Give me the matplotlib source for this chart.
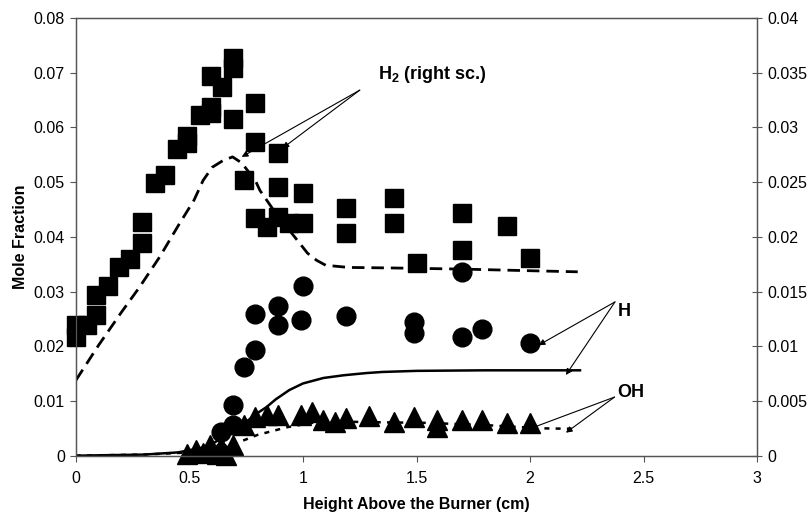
import matplotlib
matplotlib.use('Agg')
import matplotlib.pyplot as plt
from matplotlib.ticker import FuncFormatter

plt.rcParams['font.family'] = ['Liberation Sans', 'DejaVu Sans']
plt.rcParams['mathtext.fontset'] = 'custom'
plt.rcParams['mathtext.rm'] = 'Liberation Sans'
plt.rcParams['mathtext.bf'] = 'Liberation Sans:bold'

# H2 measurements (right scale)
h2_x = [0.0, 0.0, 0.05, 0.09, 0.09, 0.14, 0.19, 0.24, 0.29, 0.29, 0.35, 0.39,
        0.445, 0.49, 0.49, 0.546, 0.594, 0.594, 0.594, 0.643, 0.69, 0.69, 0.69,
        0.74, 0.79, 0.79, 0.79, 0.84, 0.89, 0.89, 0.89, 0.94, 1.0, 1.0,
        1.19, 1.19, 1.40, 1.40, 1.50, 1.70, 1.70, 1.90, 2.0]
h2_y = [0.01195, 0.01085, 0.01195, 0.01285, 0.01465, 0.01555, 0.01725, 0.0180, 0.01945, 0.02135, 0.0249, 0.02565,
        0.0280, 0.0286, 0.02925, 0.0311, 0.0313, 0.03185, 0.03465, 0.0337, 0.03075, 0.0354, 0.03635,
        0.0252, 0.0322, 0.02865, 0.0217, 0.0209, 0.02765, 0.02455, 0.0218, 0.02125, 0.0240, 0.02125,
        0.0226, 0.02035, 0.02355, 0.02125, 0.0176, 0.02215, 0.0188, 0.0210, 0.01805]

# H2 model (right scale)
h2_mx = [0.0, 0.1, 0.2, 0.28, 0.37, 0.45, 0.52, 0.56, 0.6, 0.65, 0.69, 0.73, 0.79,
         0.81, 0.87, 0.94, 1.02, 1.06, 1.1, 1.2, 1.4, 1.7, 2.0, 2.21]
h2_my = [0.0069, 0.0101, 0.0131, 0.0154, 0.0182, 0.0210, 0.02335, 0.02515, 0.02635, 0.0270, 0.0273, 0.02675,
         0.02515, 0.02425, 0.02245, 0.0206, 0.0185, 0.01785, 0.0174, 0.0172, 0.01715, 0.01705, 0.0169, 0.0168]

# H measurements and model (left scale)
h_x = [0.64, 0.69, 0.69, 0.74, 0.79, 0.79, 0.89, 0.89, 1.0, 0.99, 1.19, 1.49, 1.49, 1.70, 1.70, 1.79, 2.0]
h_y = [0.0043, 0.0056, 0.0092, 0.0162, 0.0193, 0.0259, 0.0273, 0.0239, 0.0310, 0.0248, 0.0256, 0.0245, 0.0224,
       0.0336, 0.0217, 0.0231, 0.0206]
h_mx = [0.0, 0.3, 0.45, 0.55, 0.6, 0.65, 0.7, 0.75, 0.8, 0.84, 0.88, 0.94, 1.0, 1.09, 1.18, 1.28, 1.35, 1.5,
        1.8, 2.22]
h_my = [0.0, 0.0002, 0.0006, 0.0014, 0.0022, 0.0033, 0.0047, 0.0062, 0.0078, 0.0089, 0.0103, 0.0120, 0.0132,
        0.0142, 0.0147, 0.0151, 0.0153, 0.0155, 0.0156, 0.0156]

# OH measurements and model (left scale)
oh_x = [0.49, 0.53, 0.56, 0.59, 0.62, 0.64, 0.66, 0.69, 0.74, 0.79, 0.84, 0.89, 0.99, 1.04, 1.09, 1.14, 1.19,
        1.29, 1.40, 1.49, 1.59, 1.59, 1.70, 1.79, 1.90, 2.0]
oh_y = [0.0003, 0.0010, 0.0005, 0.0019, 0.0003, 0.0016, 0.0002, 0.0019, 0.0056, 0.0071, 0.0074, 0.0074, 0.0074,
        0.0080, 0.0065, 0.0062, 0.0069, 0.0072, 0.0062, 0.0071, 0.0065, 0.0052, 0.0065, 0.0066, 0.0059, 0.0059]
oh_mx = [0.0, 0.3, 0.5, 0.6, 0.65, 0.72, 0.8, 0.93, 1.04, 1.2, 1.34, 1.54, 1.8, 2.05, 2.2]
oh_my = [0.0, 0.0002, 0.0006, 0.0012, 0.0018, 0.0025, 0.0038, 0.0052, 0.0060, 0.0062, 0.0061, 0.0060, 0.0056,
         0.0050, 0.0049]


def plot_profiles():
    fig = plt.figure(figsize=(8.08, 5.12), dpi=100)
    ax = fig.add_axes([0.094, 0.110, 0.843, 0.855])
    ax2 = ax.twinx()

    ax.plot(h_mx, h_my, color='black', lw=1.8)
    ax.plot(oh_mx, oh_my, color='black', lw=1.8, dashes=(2, 2.5))
    ax.plot(h_x, h_y, 'o', color='black', ms=13.5, clip_on=False)
    ax.plot(oh_x, oh_y, '^', color='black', ms=14, clip_on=False)

    ax2.plot(h2_mx, h2_my, color='black', lw=2.0, dashes=(4.5, 2.5))
    ax2.plot(h2_x, h2_y, 's', color='black', ms=12.5, clip_on=False)

    ax.set_xlim(0, 3)
    ax.set_ylim(0, 0.08)
    ax2.set_ylim(0, 0.04)
    ax.set_xticks([0, 0.5, 1, 1.5, 2, 2.5, 3])
    ax.set_yticks([i * 0.01 for i in range(9)])
    ax2.set_yticks([i * 0.005 for i in range(9)])
    fmt = FuncFormatter(lambda v, p: '%g' % round(v, 4))
    ax.xaxis.set_major_formatter(fmt)
    ax.yaxis.set_major_formatter(fmt)
    ax2.yaxis.set_major_formatter(fmt)

    ax.tick_params(axis='both', direction='out', length=4, width=0.8, labelsize=11.5, color='#555555')
    ax.tick_params(axis='y', pad=4)
    ax.tick_params(axis='x', pad=7)
    ax2.tick_params(axis='y', direction='inout', length=7, width=0.8, labelsize=11.5, pad=4, color='#555555')
    for a in (ax, ax2):
        for s in a.spines.values():
            s.set_color('#555555')
            s.set_linewidth(0.9)

    ax.set_xlabel('Height Above the Burner (cm)', fontsize=11.5, fontweight='bold', labelpad=8)
    ax.set_ylabel('Mole Fraction', fontsize=11.5, fontweight='bold', labelpad=4)

    arrow = dict(arrowstyle='-|>', lw=0.8, color='black', mutation_scale=9, shrinkA=0, shrinkB=0)
    for tip in [(0.73, 0.0546), (0.91, 0.0562)]:
        ax.annotate('', xy=tip, xytext=(1.25, 0.0668), arrowprops=arrow)
    ax.text(1.33, 0.0696, r'H$_\mathbf{2}$ (right sc.)', fontsize=13, fontweight='bold', va='center')

    for tip in [(2.038, 0.0202), (2.158, 0.01475)]:
        ax.annotate('', xy=tip, xytext=(2.374, 0.0281), arrowprops=arrow)
    ax.text(2.385, 0.0263, 'H', fontsize=13, fontweight='bold', va='center')

    for tip in [(1.993, 0.00483), (2.158, 0.0042)]:
        ax.annotate('', xy=tip, xytext=(2.372, 0.01071), arrowprops=arrow)
    ax.text(2.385, 0.0116, 'OH', fontsize=13, fontweight='bold', va='center')

    fig.savefig('out.png', dpi=100)


if __name__ == '__main__':
    plot_profiles()
